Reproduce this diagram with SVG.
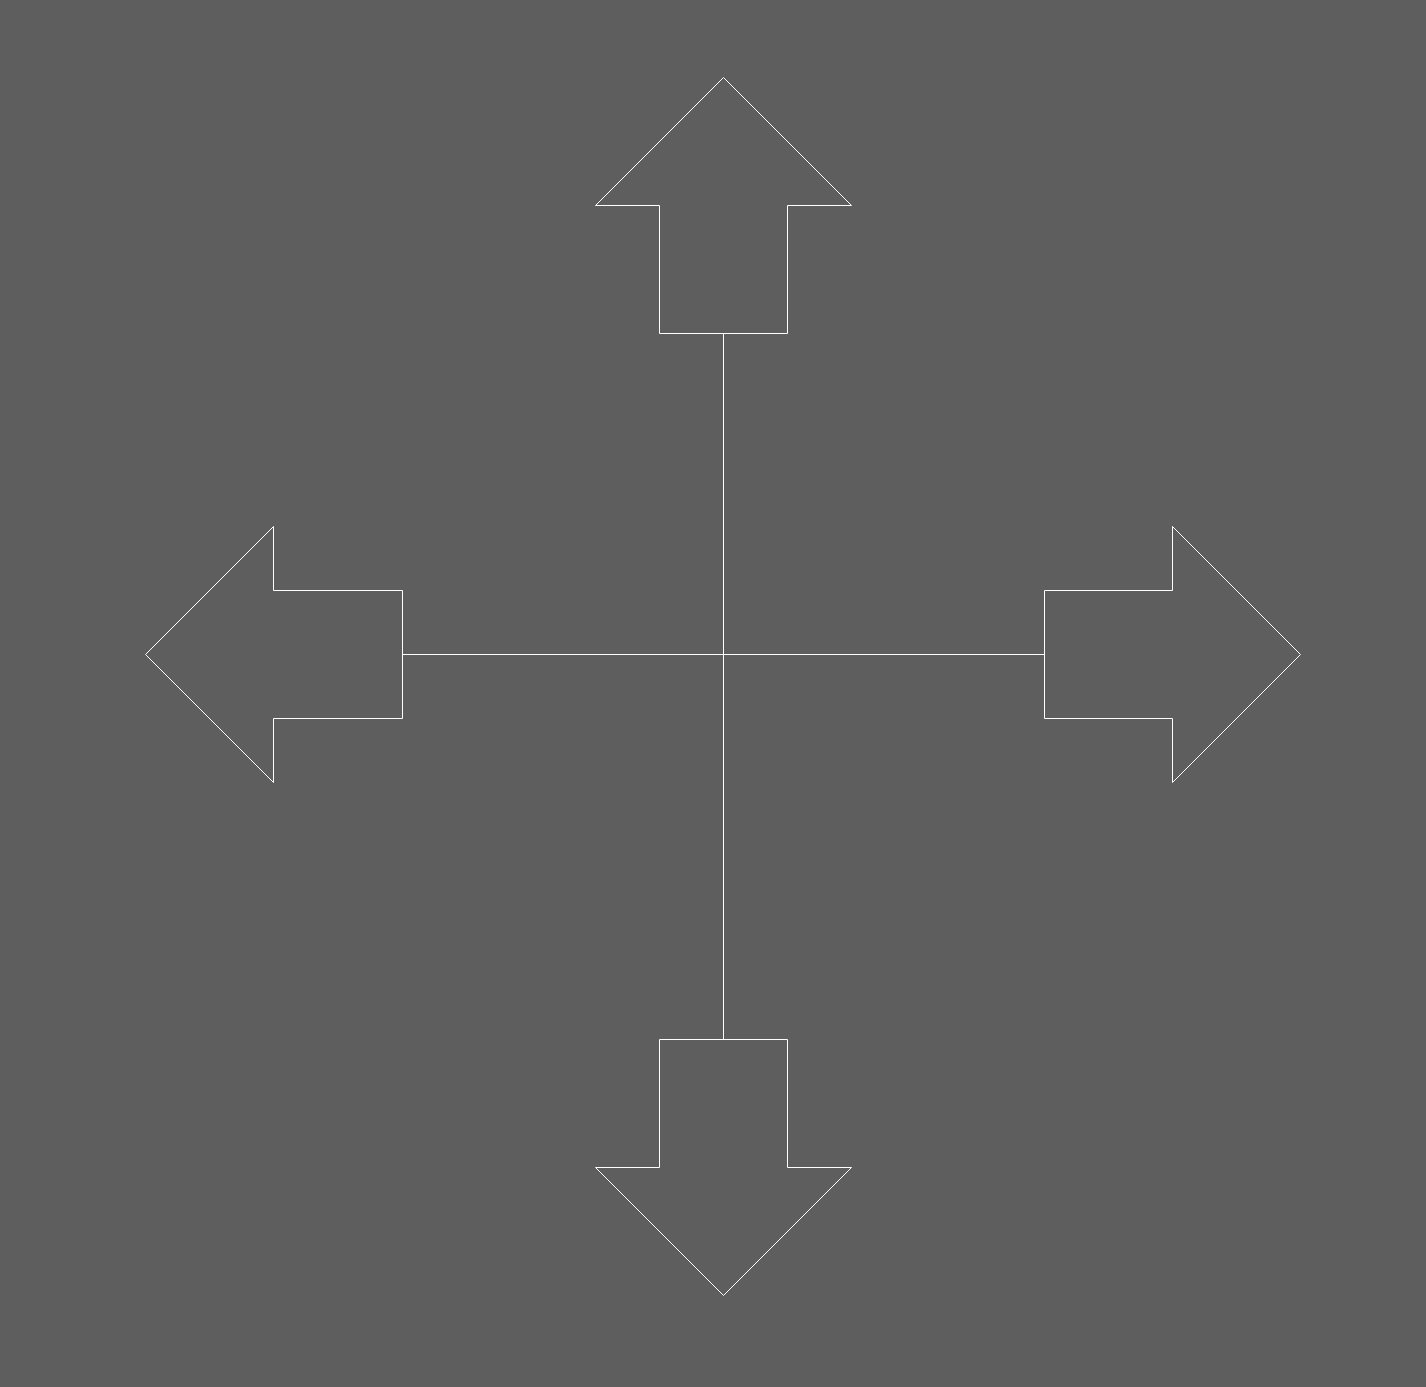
<svg xmlns="http://www.w3.org/2000/svg" width="1426" height="1387" viewBox="0 0 1426 1387">
<style>
.a{fill:none;stroke:#ffffff;stroke-width:1}
</style>
<rect width="1426" height="1387" fill="#5e5e5e"/>
<g id="connectors">
<line class="a" x1="723.5" y1="333.5" x2="723.5" y2="1039.5"/>
<line class="a" x1="402.5" y1="654.5" x2="1044.5" y2="654.5"/>
</g>
<g id="arrow-up"><polygon class="a" points="723.5,77.5 851.5,205.5 787.5,205.5 787.5,333.5 659.5,333.5 659.5,205.5 595.5,205.5"/></g>
<g id="arrow-down"><polygon class="a" points="723.5,1295.5 851.5,1167.5 787.5,1167.5 787.5,1039.5 659.5,1039.5 659.5,1167.5 595.5,1167.5"/></g>
<g id="arrow-left"><polygon class="a" points="145.5,654.5 273.5,526.5 273.5,590.5 402.5,590.5 402.5,718.5 273.5,718.5 273.5,782.5"/></g>
<g id="arrow-right"><polygon class="a" points="1300.5,654.5 1172.5,526.5 1172.5,590.5 1044.5,590.5 1044.5,718.5 1172.5,718.5 1172.5,782.5"/></g>
</svg>
